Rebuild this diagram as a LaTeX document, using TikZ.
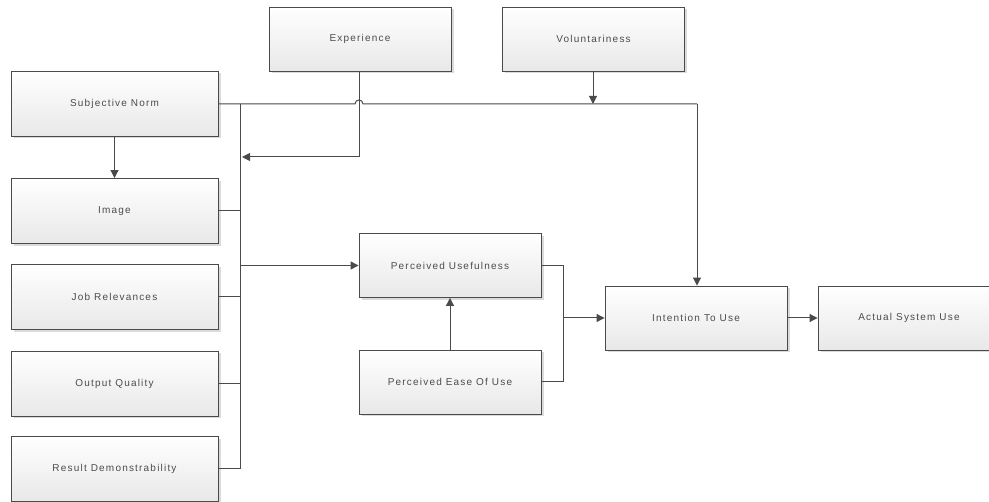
\documentclass[tikz,border=0pt]{standalone}
\usepackage{fontspec}
\setmainfont{Liberation Sans}
\newfontfamily\boxfont[LetterSpace=12]{Liberation Sans}
\usetikzlibrary{arrows.meta,shadows}
\definecolor{edge}{HTML}{4A4A4A}
\definecolor{txt}{HTML}{4C4C4C}
\tikzset{
  box/.style={draw=edge, line width=0.9pt, top color=white, bottom color=black!9,
    drop shadow={shadow xshift=2.5pt, shadow yshift=-2.5pt, fill=black!14, opacity=1},
    text=txt, font=\boxfont\fontsize{10}{12}\selectfont, inner sep=0pt},
  lbox/.style={box, minimum width=207pt, minimum height=65pt},
  mbox/.style={box, minimum width=182pt, minimum height=64pt},
  conn/.style={draw=edge, line width=1pt},
  arr/.style={conn, -{Triangle[length=8pt, width=8pt]}}
}
\begin{document}
\begin{tikzpicture}[x=1pt, y=-1pt]
\useasboundingbox (0,0) rectangle (989,502);
% left column
\node[lbox] (sn)  at (114.5,103.5) {Subjective Norm};
\node[lbox] (img) at (114.5,211) {Image};
\node[lbox] (job) at (114.5,297) {Job Relevances};
\node[lbox] (out) at (114.5,383.5) {Output Quality};
\node[lbox] (res) at (114.5,469) {Result Demonstrability};
% top
\node[mbox] (exp) at (360,39) {Experience};
\node[mbox] (vol) at (593.5,39) {Voluntariness};
% middle
\node[mbox] (pu)   at (450,265.5) {Perceived Usefulness};
\node[mbox] (peou) at (450,382) {Perceived Ease Of Use};
% right
\node[mbox] (itu) at (696,318) {Intention To Use};
\node[mbox] (asu) at (909,318) {Actual System Use};
% coordinates
\coordinate (bt) at (240,104);
\coordinate (bb) at (240,469);
\coordinate (ja) at (355,104);
\coordinate (jb) at (363,104);
\coordinate (vt) at (593,104);
\coordinate (rc) at (697,104);
\coordinate (ec) at (359,157);
\coordinate (ee) at (242,157);
\coordinate (bp) at (240,265.5);
\coordinate (mr) at (563,265.5);
\coordinate (mb) at (563,382);
\coordinate (mm) at (563,318);
% connectors
\draw[conn] (sn.east |- bt) -- (ja) .. controls (355,98.67) and (363,98.67) .. (jb) -- (rc);
\draw[arr] (rc) -- (itu.north -| rc);
\draw[arr] (vol.south -| vt) -- (vt);
\draw[conn] (exp.south -| ec) -- (ec);
\draw[arr] (ec) -- (ee);
\draw[conn] (bt) -- (bb);
\draw[conn] (img.east) -- (img.east -| bt);
\draw[conn] (job.east) -- (job.east -| bt);
\draw[conn] (out.east) -- (out.east -| bt);
\draw[conn] (res.east) -- (bb);
\draw[arr] (sn.south) -- (img.north);
\draw[arr, line width=1.4pt] (bp) -- (pu.west);
\draw[arr] (peou.north) -- (pu.south);
\draw[conn] (pu.east) -- (mr) -- (mb) -- (peou.east);
\draw[arr] (mm) -- (itu.west);
\draw[arr] (itu.east) -- (asu.west);
\end{tikzpicture}
\end{document}
